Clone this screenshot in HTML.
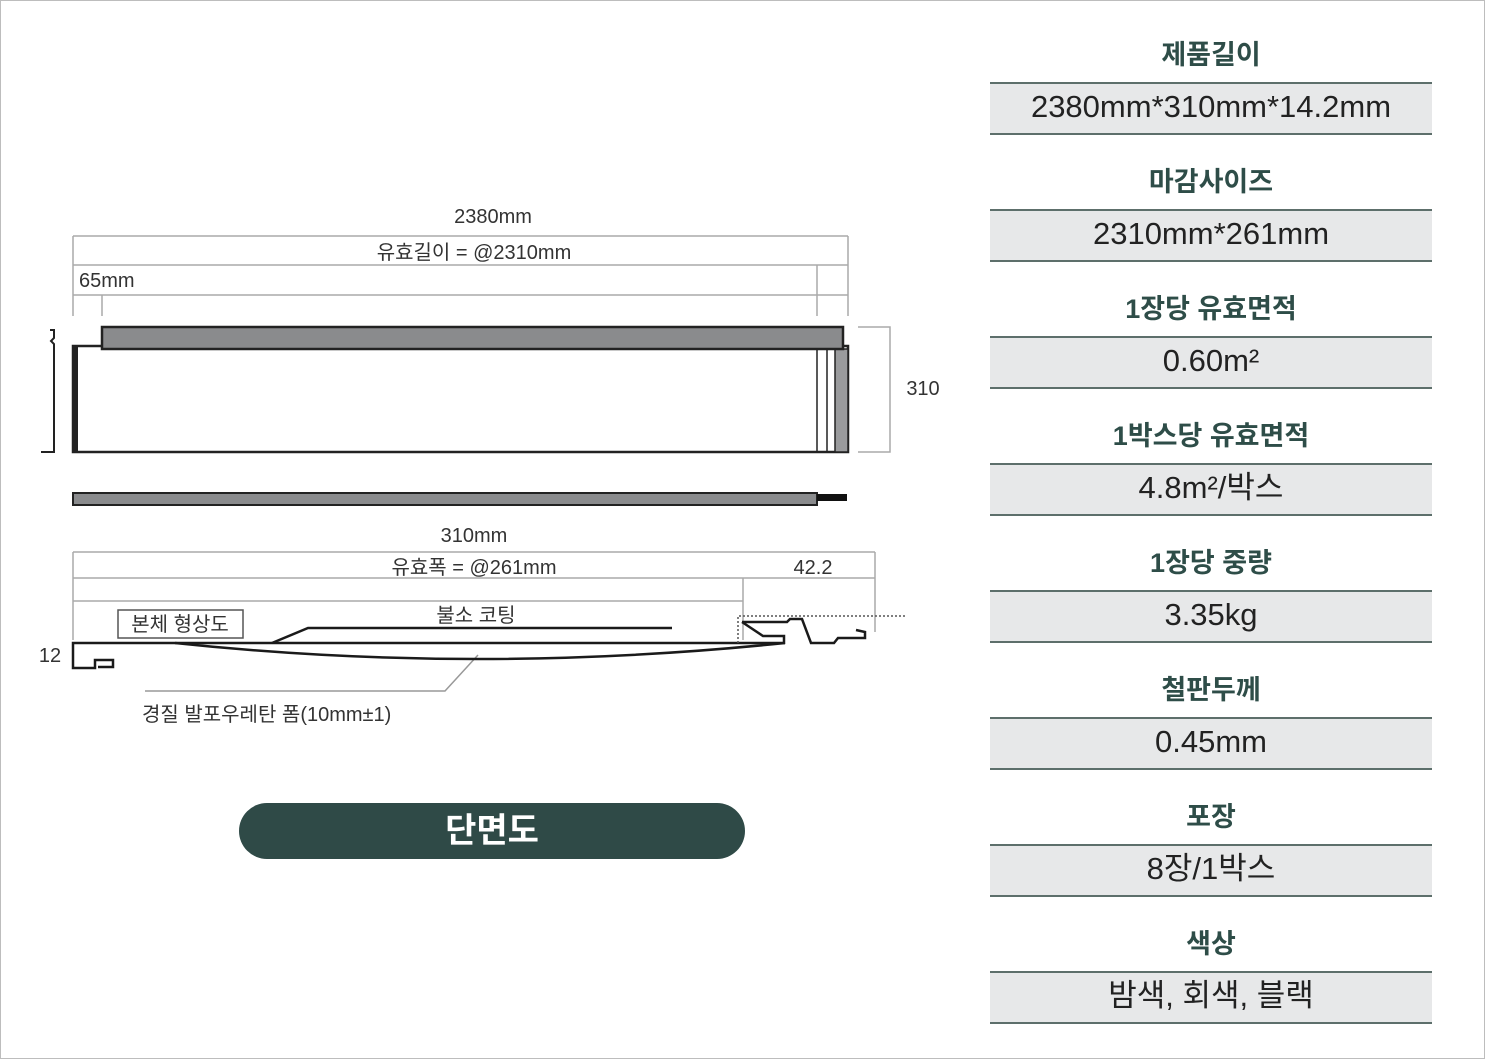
<!DOCTYPE html>
<html><head><meta charset="utf-8"><style>
html,body{margin:0;padding:0;background:#fff;}
body{width:1485px;height:1059px;position:relative;overflow:hidden;font-family:"Liberation Sans","Noto Sans CJK KR",sans-serif;}
.frame{position:absolute;left:0;top:0;width:1483px;height:1057px;border:1px solid #bdbdbd;}
.h{position:absolute;left:990px;width:442px;text-align:center;font-weight:bold;font-size:27px;color:#2e4d48;line-height:34px;margin-top:2px;}
.v{position:absolute;left:990px;width:442px;height:49px;background:#e7e8e9;border-top:2px solid #5d6f6b;border-bottom:2px solid #5d6f6b;text-align:center;font-size:31px;line-height:45px;color:#222;}
.btn{position:absolute;left:239px;top:803px;width:506px;height:56px;border-radius:28px;background:#2f4a47;color:#fff;font-size:34px;font-weight:bold;text-align:center;line-height:56px;}
</style></head><body>
<div class="frame"></div>
<svg width="1485" height="1059" style="position:absolute;left:0;top:0" font-family="Liberation Sans, Noto Sans CJK KR, sans-serif">
<g stroke="#aaa" stroke-width="1.5" fill="none">
<path d="M73 236H848M73 265H848M73 295H848M73 236V316M848 236V316M817 265V316M102 295V316"/>
<path d="M858 327H890V452H858"/>
<path d="M73 552H875M73 578H875M73 601H743M73 552V640M875 552V632M743 578V640"/>
<path d="M478 655L445 691H145" stroke="#999"/>
</g>
<g font-size="20" fill="#333" text-anchor="middle">
<text x="493" y="223">2380mm</text>
<text x="474" y="259">유효길이 = @2310mm</text>
<text x="79" y="287" text-anchor="start">65mm</text>
<text x="923" y="395">310</text>
<text x="474" y="542">310mm</text>
<text x="474" y="574">유효폭 = @261mm</text>
<text x="813" y="574">42.2</text>
<text x="476" y="622">불소 코팅</text>
<text x="180" y="631">본체 형상도</text>
<text x="50" y="662">12</text>
<text x="142" y="721" text-anchor="start">경질 발포우레탄 폼(10mm±1)</text>
</g>
<rect x="118" y="610" width="125" height="28" fill="none" stroke="#555" stroke-width="1.5"/>
<rect x="73" y="346" width="775" height="106" fill="#fff" stroke="#222" stroke-width="2.5"/>
<rect x="73" y="346" width="5" height="106" fill="#222"/>
<path d="M817 349V452M827 349V452" stroke="#222" stroke-width="1.5"/>
<rect x="835" y="349" width="13" height="103" fill="#9a9b9d" stroke="#222" stroke-width="1.5"/>
<rect x="102" y="327" width="741" height="22" fill="#8a8b8d" stroke="#222" stroke-width="2.5"/>
<path d="M50 330H54V338L51 341L54 344V452H41" fill="none" stroke="#222" stroke-width="2"/>
<rect x="73" y="493" width="744" height="12" fill="#8a8b8d" stroke="#222" stroke-width="2"/>
<rect x="817" y="494" width="30" height="7" fill="#111"/>
<g fill="none" stroke="#1a1a1a" stroke-width="2.5">
<path d="M785 643H73V668H95V660H113V667H98"/>
<path d="M175 643Q475 675 785 643"/>
<path d="M272 643L308 628H672"/>
<path d="M742 622L763 636H784V644M742 622H787L790 619H802L811 643H834L838 638H865L865 632L856 630"/>
</g>
<path d="M738 643V616H905" fill="none" stroke="#555" stroke-width="1.5" stroke-dasharray="2,2"/>
</svg>
<div class="h" style="top:36px">제품길이</div><div class="v" style="top:82px">2380mm*310mm*14.2mm</div>
<div class="h" style="top:163px">마감사이즈</div><div class="v" style="top:209px">2310mm*261mm</div>
<div class="h" style="top:290px">1장당 유효면적</div><div class="v" style="top:336px">0.60m²</div>
<div class="h" style="top:417px">1박스당 유효면적</div><div class="v" style="top:463px">4.8m²/박스</div>
<div class="h" style="top:544px">1장당 중량</div><div class="v" style="top:590px">3.35kg</div>
<div class="h" style="top:671px">철판두께</div><div class="v" style="top:717px">0.45mm</div>
<div class="h" style="top:798px">포장</div><div class="v" style="top:844px">8장/1박스</div>
<div class="h" style="top:925px">색상</div><div class="v" style="top:971px">밤색, 회색, 블랙</div>
<div class="btn">단면도</div>
</body></html>
